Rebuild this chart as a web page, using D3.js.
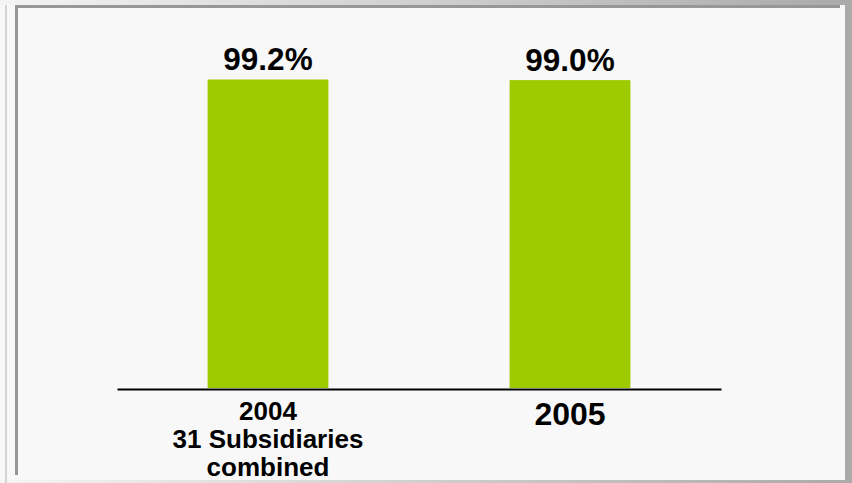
<!DOCTYPE html>
<html>
<head>
<meta charset="utf-8">
<script src="https://cdn.jsdelivr.net/npm/d3@7"></script>
<style>
  html, body { margin: 0; padding: 0; background: #f8f8f8; }
  svg { display: block; }
  text { font-family: "Liberation Sans", Arial, sans-serif; font-weight: bold; fill: #000; }
</style>
</head>
<body>
<svg id="chart" width="852" height="483"></svg>
<script>
// Share of results per period
const categories = ["2004", "2005"];
const categoryLines = [["2004", "31 Subsidiaries", "combined"], ["2005"]];
const values = [99.2, 99.0];
const valueLabels = ["99.2%", "99.0%"];

const W = 852, H = 483;
const svg = d3.select("#chart");

// Slide frame: gradient strips, shadow and dark top/left edge
const defs = svg.append("defs");
const grad = defs.append("linearGradient").attr("id", "edgeGrad")
  .attr("x1", "0%").attr("x2", "100%").attr("y1", "0%").attr("y2", "0%");
grad.append("stop").attr("offset", "0%").attr("stop-color", "#f4f4f4");
grad.append("stop").attr("offset", "100%").attr("stop-color", "#aaaaaa");

svg.append("rect").attr("x", 0).attr("y", 0).attr("width", W).attr("height", H).attr("fill", "#f8f8f8");
svg.append("rect").attr("x", 0).attr("y", 0).attr("width", W).attr("height", 5).attr("fill", "url(#edgeGrad)");
svg.append("rect").attr("x", 0).attr("y", 480).attr("width", W).attr("height", 3).attr("fill", "url(#edgeGrad)");
svg.append("rect").attr("x", 5).attr("y", 5).attr("width", 2).attr("height", H - 5).attr("fill", "#d4d4d4");
svg.append("rect").attr("x", 845).attr("y", 0).attr("width", W - 845).attr("height", H).attr("fill", "#aaaaaa");
svg.append("rect").attr("x", 15).attr("y", 5).attr("width", 830).attr("height", 475).attr("fill", "#f8f8f8");
svg.append("rect").attr("x", 15).attr("y", 5).attr("width", 825).attr("height", 3).attr("fill", "#979797");
svg.append("rect").attr("x", 15).attr("y", 5).attr("width", 3).attr("height", 470).attr("fill", "#979797");

// Scales
const x = d3.scaleBand()
  .domain(categories)
  .range([117, 721])
  .paddingInner(0.6)
  .paddingOuter(0.3);

const y = d3.scaleLinear()
  .domain([0, 100])
  .range([388, 77]);

// Bars
svg.append("g").selectAll("rect")
  .data(values)
  .join("rect")
  .attr("x", (d, i) => x(categories[i]))
  .attr("y", d => y(d))
  .attr("width", x.bandwidth())
  .attr("height", d => y(0) - y(d))
  .attr("fill", "#9dcb00");

// Value labels above bars
svg.append("g").selectAll("text")
  .data(values)
  .join("text")
  .attr("x", (d, i) => x(categories[i]) + x.bandwidth() / 2)
  .attr("y", d => y(d) - 9)
  .attr("text-anchor", "middle")
  .style("font-size", "31.5px")
  .text((d, i) => valueLabels[i]);

// Baseline axis
const axis = d3.axisBottom(x).tickSize(0).tickFormat("");
const axisG = svg.append("g").attr("transform", `translate(0,${y(0) + 1})`).call(axis);
axisG.select(".domain").attr("stroke", "#000").attr("stroke-width", 2);

// Category labels (multi-line labels are set smaller)
categoryLines.forEach((lines, i) => {
  const cx = x(categories[i]) + x.bandwidth() / 2;
  const multi = lines.length > 1;
  const t = svg.append("text")
    .attr("text-anchor", "middle")
    .style("font-size", multi ? "26px" : "32px");
  lines.forEach((ln, j) => {
    t.append("tspan")
      .attr("x", cx)
      .attr("y", (multi ? 420 : 425) + j * 28)
      .text(ln);
  });
});
</script>
</body>
</html>
